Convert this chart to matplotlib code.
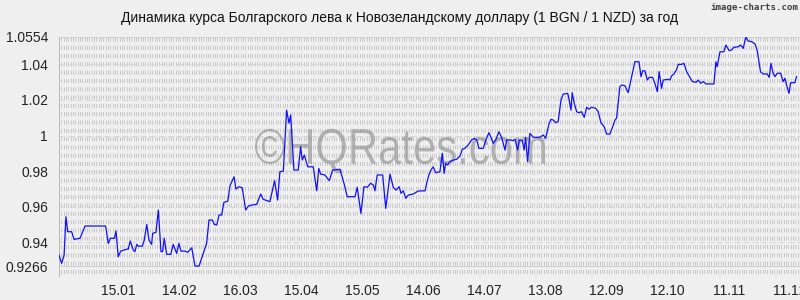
#!/usr/bin/env python3
"""Динамика курса BGN/NZD за год — воспроизведение графика HQRates."""

import matplotlib
matplotlib.use("Agg")
import matplotlib.pyplot as plt
from matplotlib import font_manager
from matplotlib.font_manager import FontProperties
from matplotlib.patches import PathPatch
from matplotlib.textpath import TextPath
from matplotlib.transforms import Affine2D

# день от начала периода и курс (1 BGN / 1 NZD)
days = [
    0, 1.3, 2.5, 3.4, 4.3, 6.2, 7.4, 10.3, 12.8, 22.9, 24.2, 25.2, 27.2, 28.0,
    29.1, 30.3, 33.3, 34.0, 35.0, 36.5, 37.3, 38.2, 38.9, 40.9, 41.9, 43.1,
    44.2, 45.5, 46.0, 47.6, 48.8, 50.1, 50.9, 51.7, 52.9, 54.9, 56.1, 57.8,
    58.9, 59.9, 61.9, 63.2, 65.2, 66.8, 68.8, 70.9, 72.5, 73.7, 75.3, 76.3,
    77.5, 78.6, 79.9, 81.0, 82.9, 84.0, 86.0, 86.9, 88.4, 90.0,
    91.7, 93.0, 94.6, 97.1, 99.1, 100.3, 103.6, 105.9, 107.4, 108.5, 110.2,
    111.8, 113.0, 113.8, 115.4, 117.5, 118.7, 119.5, 120.5, 122.2, 124.9,
    126.6, 127.6, 128.5, 130.6, 132.8, 134.4, 138.0, 140.0, 141.6, 145.4,
    146.5, 148.3, 149.8, 151.4, 153.1, 154.4, 155.2, 156.3, 159.0, 160.5,
    162.6, 164.2, 165.5, 167.1, 168.0, 169.1, 170.4, 171.6, 174.0, 176.5,
    179.8,
    180.6, 181.7, 182.7, 183.8, 185.0, 187.1, 188.3, 189.2, 189.9, 190.9,
    192.0, 193.7, 195.3, 197.0, 198.1, 199.4, 201.0, 202.7, 204.0, 205.2,
    206.3, 208.4, 209.7, 211.2, 212.2, 213.3, 214.5, 216.1, 217.4, 219.1,
    219.9, 221.5, 223.1, 224.0, 225.3, 226.1, 227.6, 228.5, 229.2, 230.2,
    231.3, 233.0, 236.2, 237.9, 239.0, 240.7, 241.7, 242.8, 244.0, 245.2,
    246.6, 247.7, 249.9, 250.6, 251.5, 252.1, 253.1, 254.3, 255.4, 256.7,
    258.0, 259.2, 260.3, 261.6, 263.6, 264.9, 266.2, 267.8, 269.0, 270.6,
    272.0, 273.1, 273.9, 275.5, 276.4, 278.0, 279.6, 282.9, 284.9, 285.9,
    286.7, 287.8, 289.0, 289.9, 291.6, 292.7, 293.9, 294.8, 296.0, 296.8,
    299.3, 300.1, 300.9, 302.1, 303.4, 304.2, 305.8, 307.0, 308.3, 309.9,
    311.2, 312.9, 314.0, 315.2, 316.5, 317.8, 321.7, 322.7, 323.3, 324.7,
    326.6, 327.6, 329.2, 330.4, 331.5, 333.6, 334.8, 336.1, 337.4, 338.6,
    340.2, 341.9, 343.0, 344.6, 345.9, 347.9, 348.9, 349.7, 350.8, 351.7,
    352.8, 354.5, 355.7, 356.6, 357.4, 358.6, 359.4, 361.5, 362.3,
]
rates = [
    0.9328, 0.9281, 0.9328, 0.9543, 0.9459, 0.9459, 0.9416, 0.9422, 0.9491,
    0.9491, 0.9393, 0.9422, 0.9422, 0.9463, 0.9318, 0.9350, 0.9361, 0.9361,
    0.9407, 0.9356, 0.9347, 0.9388, 0.9378, 0.9378, 0.9412, 0.9500, 0.9412,
    0.9388, 0.9450, 0.9455, 0.9581, 0.9347, 0.9347, 0.9422, 0.9332, 0.9332,
    0.9388, 0.9337, 0.9393, 0.9350, 0.9350, 0.9343, 0.9369, 0.9266, 0.9266,
    0.9337, 0.9393, 0.9525, 0.9525, 0.9500, 0.9497, 0.9553, 0.9553, 0.9624,
    0.9631, 0.9718, 0.9768, 0.9699, 0.9712, 0.9706,
    0.9581, 0.9603, 0.9609, 0.9613, 0.9671, 0.9641, 0.9628, 0.9746, 0.9637,
    0.9796, 0.9800, 1.0143, 1.0069, 1.0115, 0.9806, 0.9806, 0.9937, 0.9862,
    0.9890, 0.9824, 0.9824, 0.9689, 0.9815, 0.9783, 0.9778, 0.9746, 0.9806,
    0.9810, 0.9731, 0.9656, 0.9656, 0.9709, 0.9562, 0.9712, 0.9709, 0.9731,
    0.9722, 0.9689, 0.9778, 0.9778, 0.9590, 0.9783, 0.9709, 0.9693, 0.9712,
    0.9675, 0.9689, 0.9647, 0.9665, 0.9671, 0.9688, 0.9689,
    0.9731, 0.9778, 0.9806, 0.9824, 0.9791, 0.9796, 0.9900, 0.9787, 0.9844,
    0.9834, 0.9853, 0.9862, 0.9866, 0.9885, 0.9922, 0.9928, 0.9947, 0.9975,
    0.9984, 0.9975, 0.9928, 0.9928, 0.9975, 1.0016, 0.9990, 0.9956, 0.9975,
    1.0021, 0.9990, 0.9918, 0.9975, 0.9975, 0.9971, 0.9979, 0.9918, 0.9975,
    0.9971, 0.9918, 0.9990, 0.9853, 1.0012, 0.9990, 0.9990, 1.0003, 0.9984,
    1.0065, 1.0091, 1.0087, 1.0072, 1.0078, 1.0200, 1.0233, 1.0237, 1.0200,
    1.0143, 1.0241, 1.0181, 1.0134, 1.0128, 1.0134, 1.0102, 1.0159, 1.0148,
    1.0159, 1.0153, 1.0134, 1.0072, 1.0050, 1.0008, 1.0008,
    1.0050, 1.0087, 1.0097, 1.0274, 1.0284, 1.0280, 1.0241, 1.0415, 1.0415,
    1.0331, 1.0364, 1.0364, 1.0312, 1.0327, 1.0327, 1.0294, 1.0247, 1.0359,
    1.0265, 1.0312, 1.0316, 1.0312, 1.0335, 1.0346, 1.0372, 1.0400, 1.0400,
    1.0406, 1.0359, 1.0327, 1.0303, 1.0299, 1.0312, 1.0294, 1.0303, 1.0290,
    1.0290, 1.0415, 1.0387, 1.0471, 1.0471, 1.0509, 1.0477, 1.0481, 1.0496,
    1.0499, 1.0509, 1.0490, 1.0554, 1.0531, 1.0528, 1.0515, 1.0477, 1.0359,
    1.0346, 1.0346, 1.0327, 1.0406, 1.0350, 1.0331, 1.0350, 1.0350, 1.0303,
    1.0322, 1.0284, 1.0237, 1.0297, 1.0297, 1.0331,
]

y_ticks = [0.9266, 0.94, 0.96, 0.98, 1.0, 1.02, 1.04, 1.0554]
y_labels = ["0.9266", "0.94", "0.96", "0.98", "1", "1.02", "1.04", "1.0554"]
x_labels = ["15.01", "14.02", "16.03", "15.04", "15.05", "14.06",
            "14.07", "13.08", "12.09", "12.10", "11.11", "11.12"]
x_ticks = [29 + 30 * i for i in range(len(x_labels))]

BG = "#efefef"
GRID = "#c9c9c9"

installed = {f.name for f in font_manager.fontManager.ttflist}
FONT = "Liberation Sans" if "Liberation Sans" in installed else "DejaVu Sans"

fig = plt.figure(figsize=(8, 3), dpi=100, facecolor=BG)
ax = fig.add_axes([59 / 800, 1 - 276 / 300, 741 / 800, 239 / 300])
ax.set_facecolor(BG)
x_max = 364
y_min, y_max = 0.9210, 1.0554
ax.set_xlim(0, x_max)
ax.set_ylim(y_min, y_max)

# плотная сетка из коротких вертикальных штрихов
step = x_max / 318
gx = [i * step for i in range(1, 318)]
ax.vlines(gx, y_max, y_min, colors=GRID, linewidth=0.72,
          linestyles=[(0, (4, 4.3))], zorder=1)

for t in y_ticks:
    if t in (0.9266, y_max):
        ax.axhline(t, color="#cfcfcf", linewidth=0.72, zorder=1)
    else:
        ax.axhline(t, color="#d6d6d6", linewidth=0.72,
                   linestyle=(0, (6, 3)), zorder=1)

# водяной знак: узкий шрифт имитируем сжатием по горизонтали
wm = TextPath((0, 0), "©HQRates.com", size=50, prop=FontProperties(family=FONT))
ext = wm.get_extents()
sx = 290 / ext.width
wm_tr = (Affine2D()
         .translate(-(ext.x0 + ext.width / 2), -(ext.y0 + ext.height / 2))
         .scale(sx, 1.0)
         .translate(400, 149))
ax.add_patch(PathPatch(wm, transform=wm_tr, facecolor="#8a8a8a",
                       edgecolor="none", alpha=0.6, zorder=2, clip_on=False))

ax.plot(days, rates, color="#1010ff", linewidth=0.9, zorder=3)

ax.set_yticks(y_ticks)
ax.set_yticklabels(y_labels, fontsize=10, family=FONT, color="#222222")
ax.set_xticks(x_ticks)
ax.set_xticklabels(x_labels, fontsize=10, family=FONT, color="#222222")
ax.tick_params(length=0, pad=6)
ax.tick_params(axis="y", pad=8)
for side in ("top", "right", "bottom"):
    ax.spines[side].set_visible(False)
ax.spines["left"].set_color("#bbbbbb")
ax.spines["left"].set_linewidth(0.72)

fig.text(0.5, 0.94, "Динамика курса Болгарского лева к Новозеландскому "
         "доллару (1 BGN / 1 NZD) за год", ha="center", va="center",
         fontsize=10, family=FONT, color="#111111")
fig.text(0.998, 0.976, "image-charts.com", ha="right", va="center",
         fontsize=6.6, family="DejaVu Sans Mono", color="#404040",
         fontweight="bold")

fig.savefig("out.png", dpi=100, facecolor=BG)
